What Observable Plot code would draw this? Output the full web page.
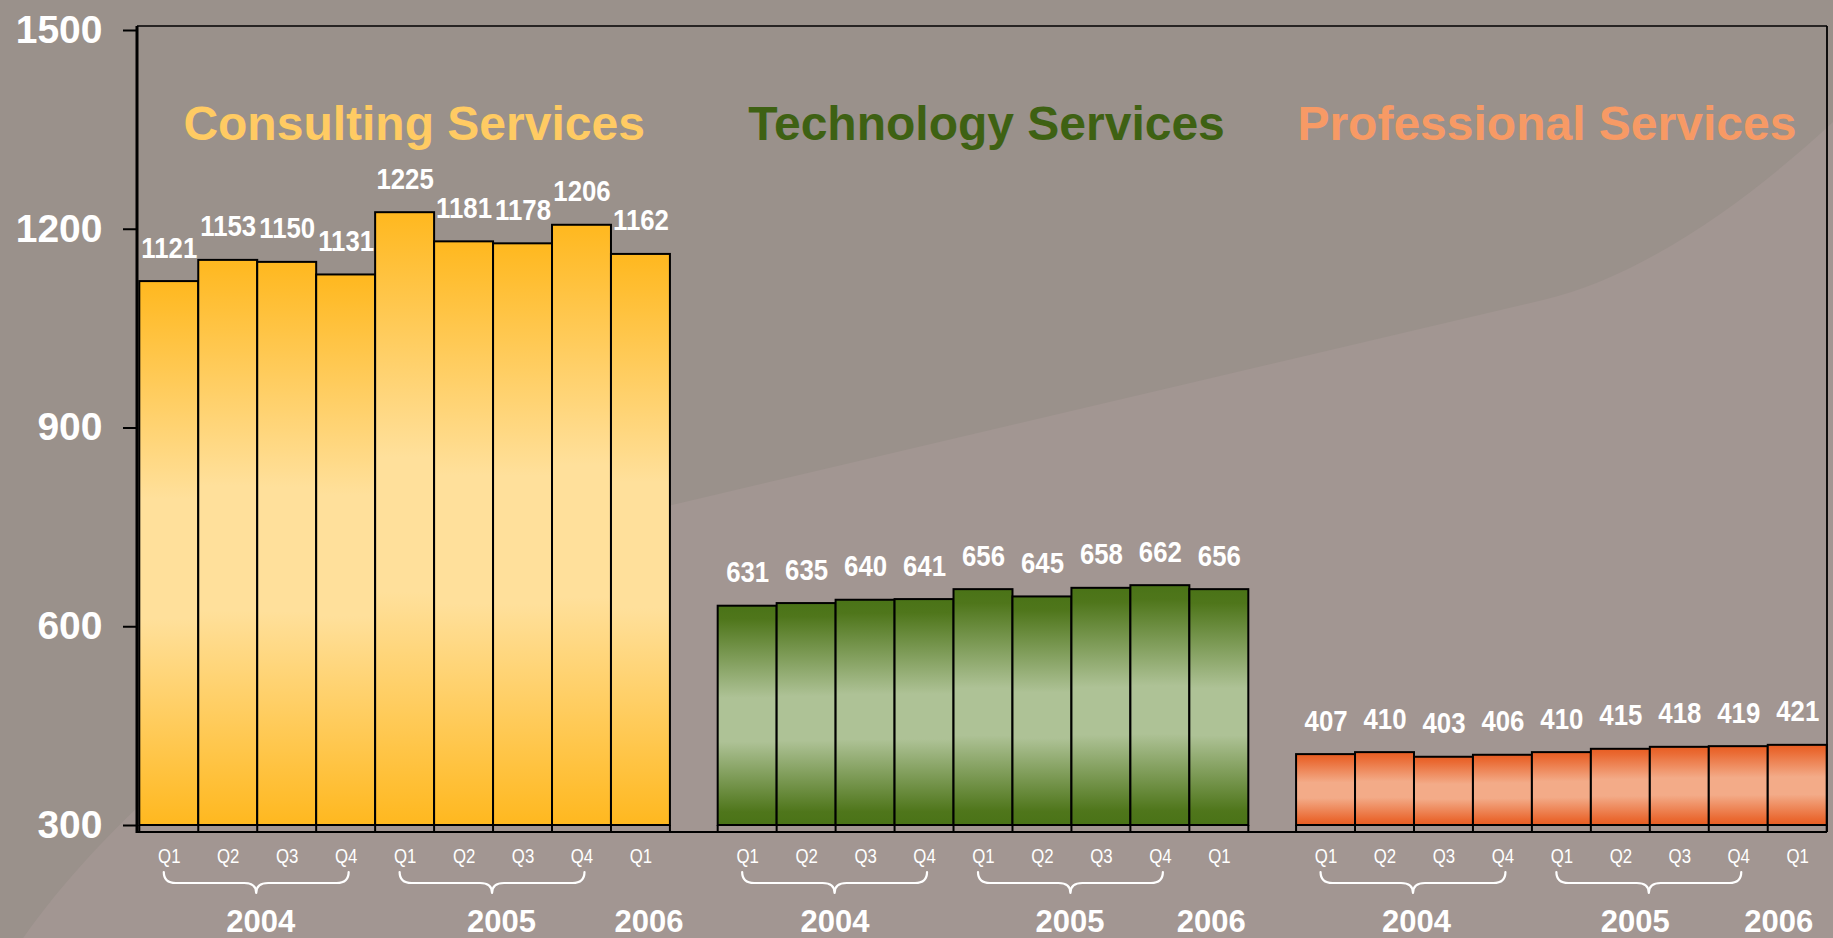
<!DOCTYPE html>
<html>
<head>
<meta charset="utf-8">
<script src="https://cdn.jsdelivr.net/npm/d3@7"></script>
<script src="https://cdn.jsdelivr.net/npm/@observablehq/plot@0.6"></script>
<style>
  html, body { margin: 0; padding: 0; }
  body { width: 1833px; height: 938px; overflow: hidden; background: #9a918b; position: relative; }
  #bg { position: absolute; left: 0; top: 0; }
  #chart { position: absolute; left: 0; top: 0; }
  #chart svg { background: transparent; overflow: visible; }
</style>
</head>
<body>
<svg id="bg" width="1833" height="938" viewBox="0 0 1833 938">
  <path d="M15,950 C120,792 372,583 672,505 L1543,300 C1650,275 1760,190 1833,122 L1850,105 L1850,960 Z" fill="#a29692"/>
</svg>
<div id="chart"></div>
<script>
// ---------- data ----------
const services = ["Consulting Services", "Technology Services", "Professional Services"];
const quarters = ["Q1", "Q2", "Q3", "Q4", "Q1", "Q2", "Q3", "Q4", "Q1"];
const quarterYears = ["2004", "2004", "2004", "2004", "2005", "2005", "2005", "2005", "2006"];
const years = ["2004", "2005", "2006"];
const consulting = [1121, 1153, 1150, 1131, 1225, 1181, 1178, 1206, 1162];
const technology = [631, 635, 640, 641, 656, 645, 658, 662, 656];
const professional = [407, 410, 403, 406, 410, 415, 418, 419, 421];
const yTicks = [300, 600, 900, 1200, 1500];

// ---------- styles / layout ----------
const titleColors = ["#ffcb63", "#3e6113", "#f79a65"];
const titleShift = [9, 3, -15];                       // px nudges of the titles
const yearShift = [[3, 8, 8], [-1, -2, -8], [2, -15, -19]]; // px nudges of year labels
const gradients = [
  [[0, "#ffb81f"], [0.40, "#ffe09b"], [0.62, "#ffe09b"], [1, "#ffb81f"]],
  [[0, "#4a7317"], [0.06, "#4f761b"], [0.42, "#aec296"], [0.62, "#aec296"], [0.94, "#4f761b"], [1, "#4a7317"]],
  [[0, "#e85d22"], [0.08, "#ea6a33"], [0.40, "#f3ab88"], [0.62, "#f3ab88"], [0.92, "#ea6a33"], [1, "#e85d22"]]
];
const STRIDE = 9.81;          // group spacing in bar-width units
const BASE = yTicks[0];
const FONT = "'Liberation Sans', Arial, sans-serif";
const CONDENSE = 0.86;        // horizontal squeeze for the narrow labels

const seriesValues = [consulting, technology, professional];
const rows = services.flatMap((s, g) => seriesValues[g].map((v, i) => ({
  service: s, g, i, quarter: quarters[i], year: quarterYears[i], value: v
})));
const yearSpans = years.map(y => ({
  year: y, i0: quarterYears.indexOf(y), i1: quarterYears.lastIndexOf(y)
}));
const yearRows = services.flatMap((s, g) => yearSpans.map((d, k) => ({...d, g, k})));

const NS = "http://www.w3.org/2000/svg";
function el(tag, attrs, parent) {
  const e = document.createElementNS(NS, tag);
  for (const k in attrs) e.setAttribute(k, attrs[k]);
  if (parent) parent.appendChild(e);
  return e;
}

function condenseText(t, k) {
  if (t.dataset.condensed) return;
  t.dataset.condensed = "1";
  const tr = t.getAttribute("transform");
  if (tr && /translate/.test(tr)) {
    t.setAttribute("transform", tr + ` scale(${k},1)`);
  } else {
    const x = +t.getAttribute("x") || 0, y = +t.getAttribute("y") || 0;
    t.removeAttribute("x"); t.removeAttribute("y");
    t.setAttribute("transform", `translate(${x},${y}) scale(${k},1)` + (tr ? " " + tr : ""));
  }
}
const condensedRender = k => (index, scales, values, dims, context, next) => {
  const g = next(index, scales, values, dims, context);
  if (g) g.querySelectorAll("text").forEach(t => condenseText(t, k));
  return g;
};

function gradientDefs() {
  const g = el("g", {});
  const defs = el("defs", {}, g);
  gradients.forEach((stops, k) => {
    const lg = el("linearGradient", {id: `grad${k}`, x1: 0, y1: 0, x2: 0, y2: 1}, defs);
    stops.forEach(([o, c]) => el("stop", {offset: o, "stop-color": c}, lg));
  });
  return g;
}

function frameLines(index, scales, values, dims) {
  const {x, y} = scales;
  const {width, height, marginLeft, marginRight, marginTop, marginBottom} = dims;
  const L = marginLeft, R = width - marginRight, T = marginTop, B = height - marginBottom;
  const g = el("g", {stroke: "black", fill: "none"});
  el("line", {x1: L, x2: R, y1: T, y2: T, "stroke-width": 1.5}, g);
  el("line", {x1: R, x2: R, y1: T, y2: B, "stroke-width": 1.8}, g);
  el("line", {x1: L, x2: R, y1: B, y2: B, "stroke-width": 2.2}, g);
  el("line", {x1: L, x2: L, y1: T, y2: B + 1, "stroke-width": 3}, g);
  services.forEach((s, gi) => {
    for (let i = 0; i <= quarters.length; i++) {
      const xx = x(gi * STRIDE + i);
      el("line", {x1: xx, x2: xx, y1: y(BASE), y2: B, "stroke-width": 2}, g);
    }
  });
  return g;
}

function braces(index, scales, values, dims) {
  const {x} = scales;
  const B = dims.height - dims.marginBottom;
  const g = el("g", {stroke: "white", fill: "none", "stroke-width": 2.2, "stroke-linecap": "round", "stroke-linejoin": "round"});
  services.forEach((s, gi) => yearSpans.filter(d => d.i1 > d.i0).forEach(d => {
    const xl = x(gi * STRIDE + d.i0 + 0.5) - 5, xr = x(gi * STRIDE + d.i1 + 0.5) + 3, xm = (xl + xr) / 2;
    const t = B + 40, f = B + 51, p = B + 61, r = 12;
    el("path", {d: `M${xl},${t} Q${xl},${f} ${xl + r},${f} L${xm - r},${f} Q${xm},${f} ${xm},${p} Q${xm},${f} ${xm + r},${f} L${xr - r},${f} Q${xr},${f} ${xr},${t}`}, g);
  }));
  return g;
}

const barMarks = services.map((s, g) => Plot.rect(rows.filter(d => d.g === g), {
  x1: d => d.g * STRIDE + d.i,
  x2: d => d.g * STRIDE + d.i + 1,
  y1: () => BASE,
  y2: "value",
  fill: `url(#grad${g})`,
  stroke: "black",
  strokeWidth: 2
}));

const titleMarks = services.map((s, g) => Plot.text([s], {
  x: () => g * STRIDE + quarters.length / 2,
  text: d => d,
  frameAnchor: "top",
  lineAnchor: "bottom",
  dy: 113,
  dx: titleShift[g],
  fill: titleColors[g],
  fontSize: 48,
  fontWeight: "bold",
  fontFamily: FONT
}));

const yearMarks = yearRows.map(d => Plot.text([d], {
  x: r => r.g * STRIDE + (r.i0 + r.i1 + 1) / 2,
  text: "year",
  frameAnchor: "bottom",
  lineAnchor: "bottom",
  dy: 99,
  dx: yearShift[d.g][d.k],
  fill: "white",
  fontSize: 31,
  fontWeight: "bold",
  fontFamily: FONT
}));

const chart = Plot.plot({
  width: 1833,
  height: 938,
  marginTop: 26,
  marginBottom: 106,
  marginLeft: 137,
  marginRight: 6,
  x: {type: "linear", domain: [0, 2 * STRIDE + quarters.length], range: [139.3, 1826.7], axis: null},
  y: {domain: [yTicks[0], yTicks[yTicks.length - 1]], range: [825, 30], label: null},
  style: {background: "transparent", overflow: "visible"},
  marks: [
    gradientDefs,
    ...barMarks,
    frameLines,
    Plot.axisY(yTicks, {
      tickSize: 14, tickPadding: 21, stroke: "black", strokeWidth: 2,
      fill: "white", fontSize: 39, fontWeight: "bold", fontFamily: FONT,
      tickFormat: d3.format("d"), label: null
    }),
    Plot.text(rows, {
      x: d => d.g * STRIDE + d.i + 0.5,
      y: "value",
      text: d => String(d.value),
      dy: -24,
      lineAnchor: "bottom",
      fill: "white",
      fontSize: 30,
      fontWeight: "bold",
      fontFamily: FONT,
      render: condensedRender(CONDENSE)
    }),
    ...titleMarks,
    Plot.text(rows, {
      x: d => d.g * STRIDE + d.i + 0.5,
      text: "quarter",
      frameAnchor: "bottom",
      lineAnchor: "bottom",
      dy: 30,
      fill: "white",
      fontSize: 21,
      fontFamily: FONT,
      render: condensedRender(0.8)
    }),
    braces,
    ...yearMarks
  ]
});

document.getElementById("chart").appendChild(chart);
</script>
</body>
</html>
